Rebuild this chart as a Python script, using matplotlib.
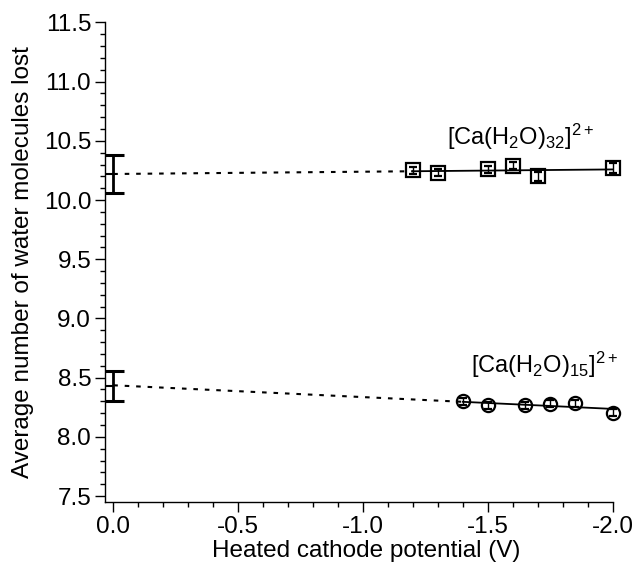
import numpy as np
import matplotlib
matplotlib.use("Agg")
import matplotlib.pyplot as plt
from matplotlib.ticker import MultipleLocator

plt.rcParams['font.family'] = ['Liberation Sans', 'DejaVu Sans']
plt.rcParams['mathtext.fontset'] = 'custom'
plt.rcParams['mathtext.rm'] = 'Liberation Sans'
plt.rcParams['mathtext.it'] = 'Liberation Sans'

# datos
pot_32 = [-1.2, -1.3, -1.5, -1.6, -1.7, -2.0]
agua_32 = [10.25, 10.23, 10.26, 10.29, 10.20, 10.27]
err_32 = [0.03, 0.03, 0.03, 0.03, 0.04, 0.04]

pot_15 = [-1.4, -1.5, -1.65, -1.75, -1.85, -2.0]
agua_15 = [8.30, 8.265, 8.265, 8.28, 8.285, 8.205]
err_15 = [0.03, 0.03, 0.03, 0.03, 0.03, 0.03]

# valores extrapolados a 0 V
cero_val = [10.22, 8.43]
cero_err = [0.16, 0.13]

fig = plt.figure(figsize=(6.33, 5.63), dpi=100)
ax = fig.add_axes([0.1659, 0.1078, 0.8020, 0.8523])

for xs, ys, es, mk, ms in [(pot_32, agua_32, err_32, 's', 10),
                           (pot_15, agua_15, err_15, 'o', 9.5)]:
    xs = np.array(xs)
    ys = np.array(ys)
    m, b = np.polyfit(xs, ys, 1)
    xa = np.array([xs.max(), xs.min()])
    ax.plot(xa, m * xa + b, color='black', lw=1.3, zorder=2)
    xd = np.array([0.0, xs.max()])
    ax.plot(xd, m * xd + b, color='black', lw=1.5, ls=(0, (2.2, 3.3)), zorder=2)
    ax.errorbar(xs, ys, yerr=es, fmt=mk, ms=ms, mfc='none', mec='black',
                mew=1.6, ecolor='black', elinewidth=1.0, capsize=3, capthick=1.0,
                zorder=3, clip_on=False)

ax.errorbar([0.0, 0.0], cero_val, yerr=cero_err, fmt='none', ecolor='black',
            elinewidth=2.0, capsize=8, capthick=2.2, zorder=4)
ax.plot([0.0, 0.0], cero_val, ls='none', marker=0, ms=6, mew=1.5,
        color='black', zorder=4)

ax.text(-1.63, 10.53, r'[Ca(H$_2$O)$_{32}$]$^{2+}$', fontsize=17,
        ha='center', va='center')
ax.text(-1.725, 8.61, r'[Ca(H$_2$O)$_{15}$]$^{2+}$', fontsize=17,
        ha='center', va='center')

ax.set_xlim(0.033, -2.0)
ax.set_ylim(7.447, 11.5)
ax.xaxis.set_major_locator(MultipleLocator(0.5))
ax.xaxis.set_minor_locator(MultipleLocator(0.1))
ax.yaxis.set_major_locator(MultipleLocator(0.5))
ax.yaxis.set_minor_locator(MultipleLocator(0.1))
ax.xaxis.set_major_formatter(plt.FormatStrFormatter('%.1f'))
ax.yaxis.set_major_formatter(plt.FormatStrFormatter('%.1f'))
ax.tick_params(which='major', direction='out', length=7, width=1.0,
               labelsize=17.5, pad=3)
ax.tick_params(which='minor', direction='out', length=3.5, width=1.0)

for lado in ['top', 'right']:
    ax.spines[lado].set_visible(False)
for lado in ['left', 'bottom']:
    ax.spines[lado].set_linewidth(1.0)

ax.set_xlabel('Heated cathode potential (V)', fontsize=17.5, labelpad=1, x=0.514)
ax.set_ylabel('Average number of water molecules lost', fontsize=17.5, labelpad=7)

fig.savefig('out.png', dpi=100)
